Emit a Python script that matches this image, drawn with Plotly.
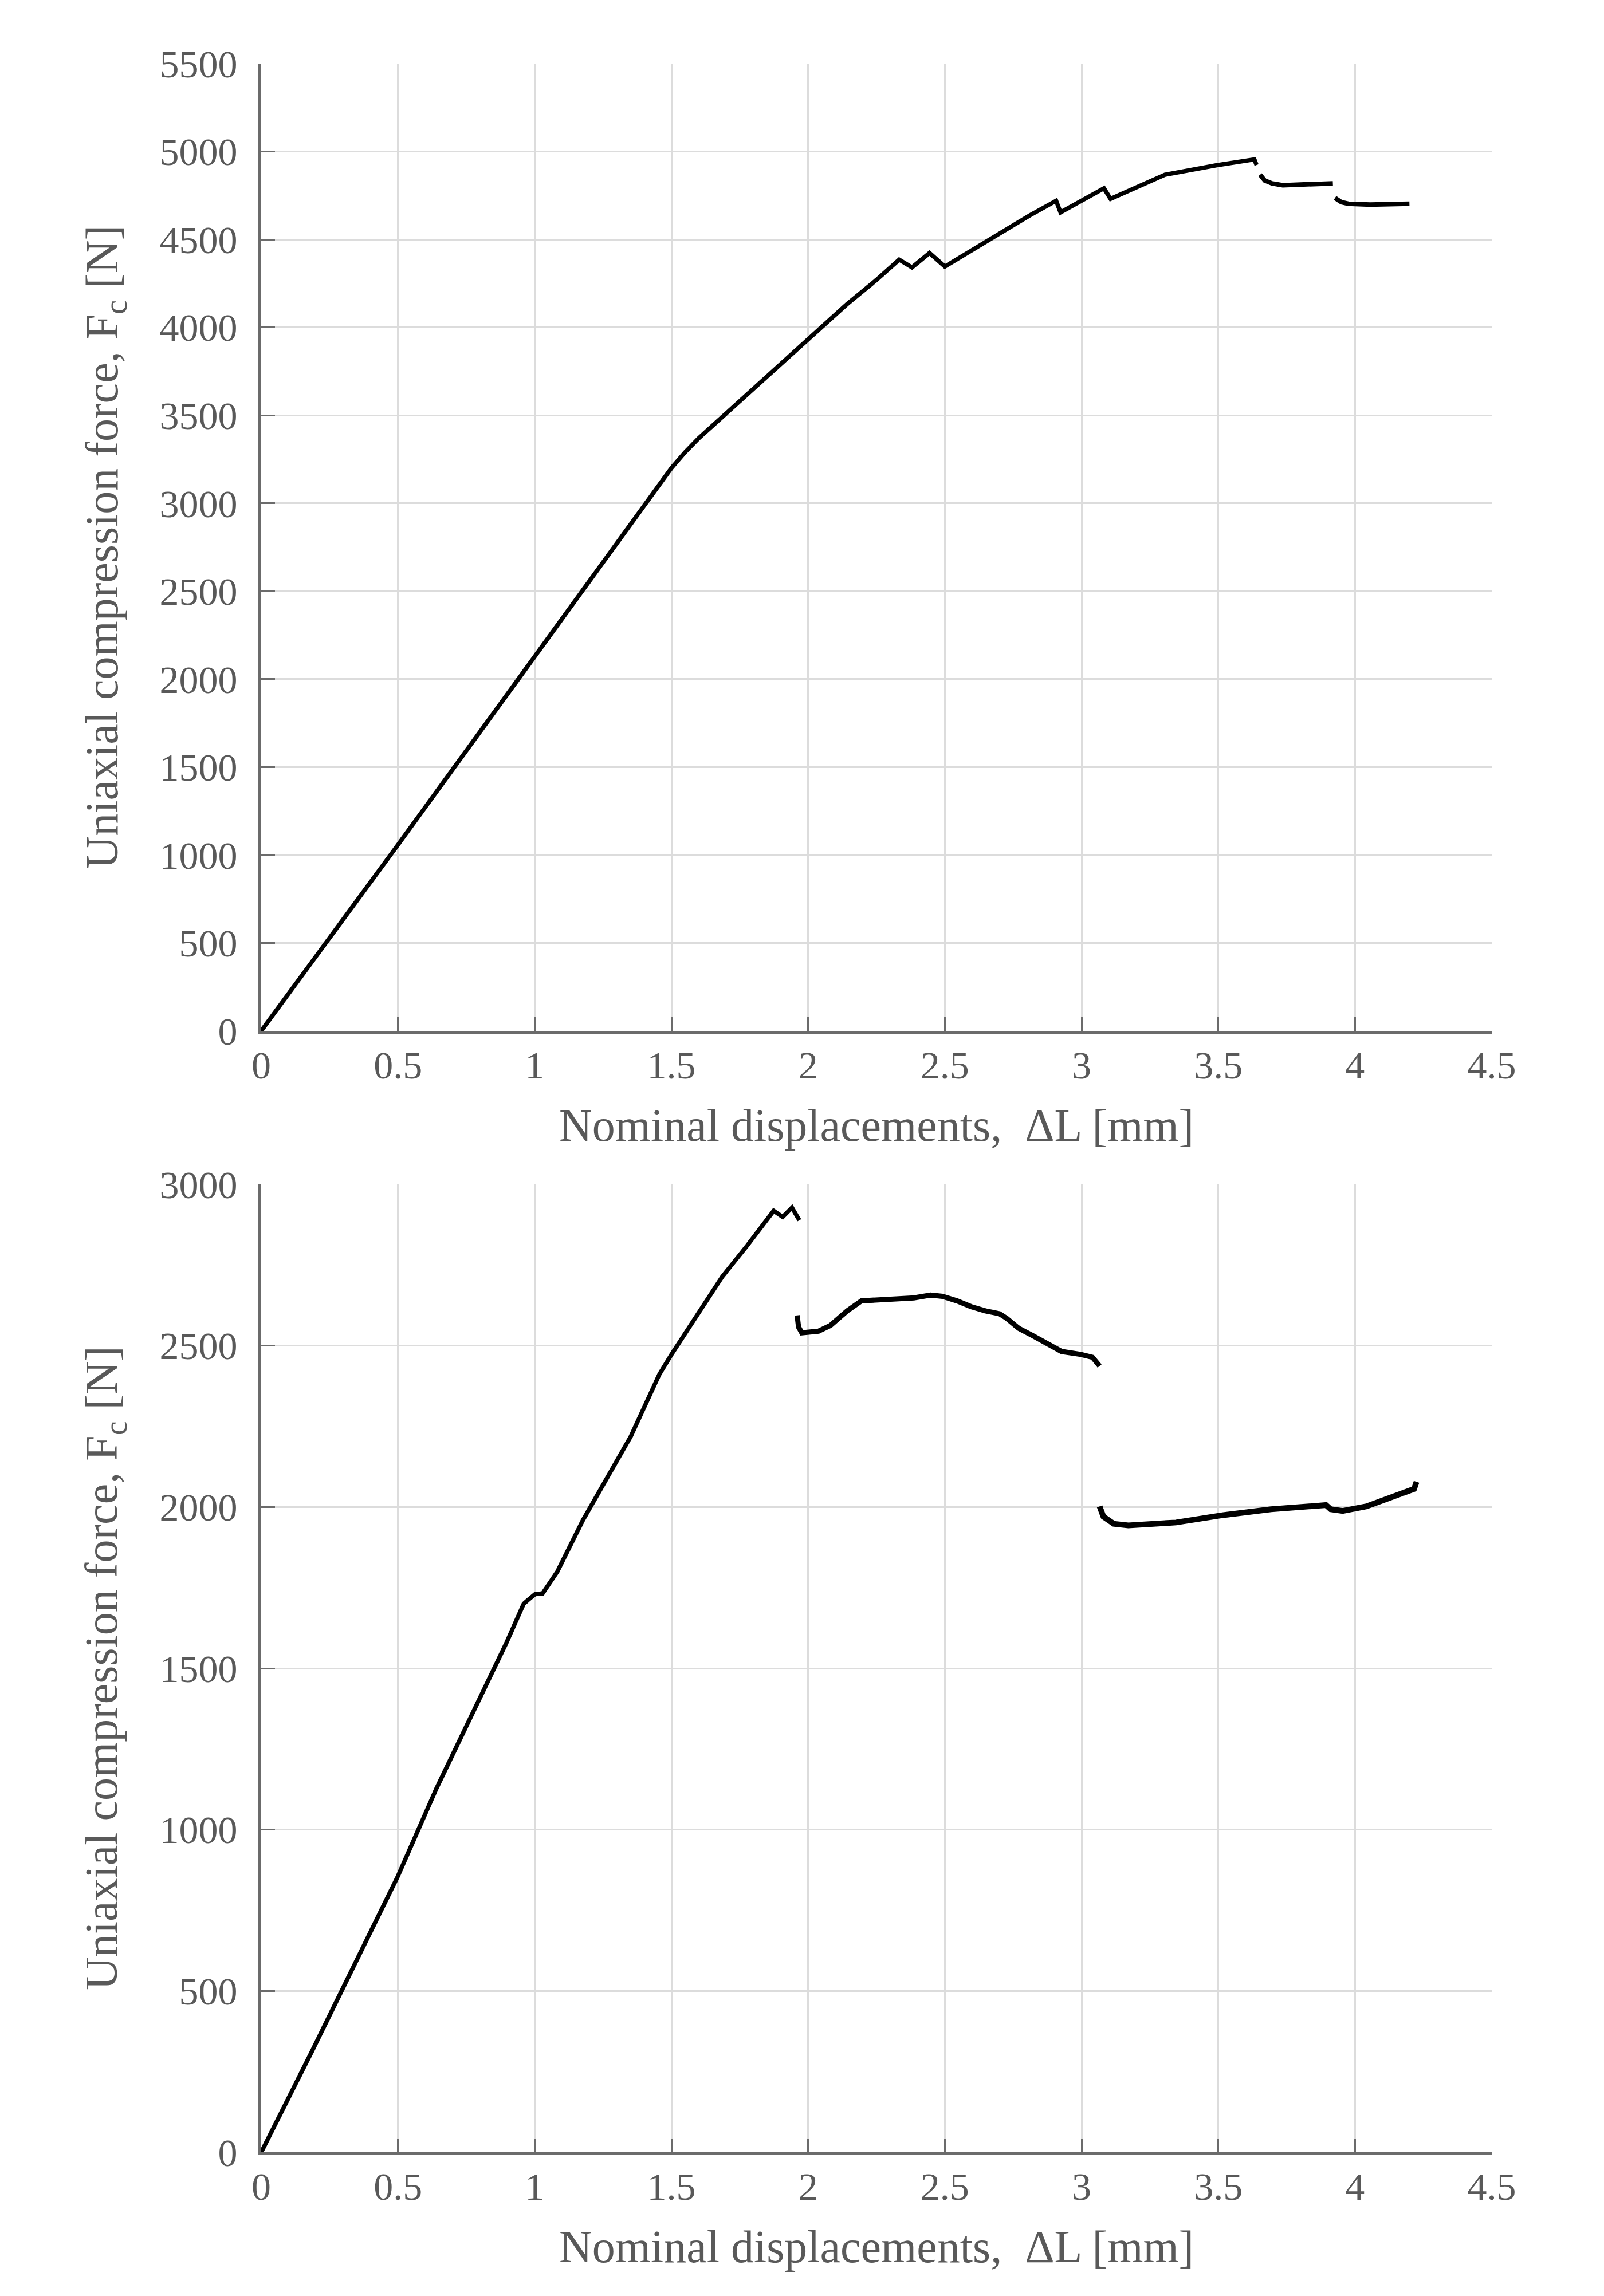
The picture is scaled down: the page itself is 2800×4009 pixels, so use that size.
import plotly.graph_objects as go

# ---------------- data ----------------
x_ticks = [0, 0.5, 1, 1.5, 2, 2.5, 3, 3.5, 4, 4.5]
top_y_ticks = [0, 500, 1000, 1500, 2000, 2500, 3000, 3500, 4000, 4500, 5000, 5500]
bot_y_ticks = [0, 500, 1000, 1500, 2000, 2500, 3000]

# top specimen: three recorded stretches
top_seg1_x = [0, 0.5, 1.0, 1.45, 1.5, 1.55, 1.6, 1.65, 1.7, 1.744, 1.85, 1.98, 2.141,
              2.25, 2.333, 2.38, 2.444, 2.5, 2.667, 2.811, 2.907, 2.923, 3.082, 3.106,
              3.305, 3.497, 3.632, 3.64]
top_seg1_f = [0, 1058, 2128, 3100, 3200, 3290, 3370, 3440, 3510, 3570, 3720, 3900, 4130,
              4270, 4385, 4341, 4423, 4346, 4505, 4637, 4720, 4654, 4791, 4731,
              4868, 4923, 4955, 4923]
top_seg2_x = [3.653, 3.67, 3.696, 3.736, 3.8, 3.919]
top_seg2_f = [4868, 4835, 4819, 4808, 4812, 4819]
top_seg3_x = [3.927, 3.95, 3.975, 4.055, 4.199]
top_seg3_f = [4736, 4712, 4703, 4698, 4703]

# bottom specimen: three recorded stretches
bot_seg1_x = [0, 0.185, 0.5, 0.641, 0.895, 0.96, 0.976, 1.002, 1.029, 1.083, 1.177,
              1.351, 1.456, 1.499, 1.686, 1.777, 1.874, 1.907, 1.941, 1.968]
bot_seg1_f = [0, 312, 856, 1128, 1576, 1700, 1712, 1730, 1732, 1800, 1960,
              2218, 2411, 2471, 2714, 2810, 2918, 2899, 2928, 2889]
bot_seg2_x = [1.960, 1.965, 1.977, 2.038, 2.082, 2.143, 2.195, 2.300, 2.387, 2.448,
              2.491, 2.544, 2.596, 2.648, 2.700, 2.726, 2.770, 2.822, 2.892, 2.927,
              2.997, 3.040, 3.066]
bot_seg2_f = [2594, 2558, 2540, 2545, 2563, 2608, 2639, 2644, 2648, 2657,
              2653, 2639, 2621, 2608, 2599, 2585, 2554, 2531, 2500, 2482,
              2473, 2464, 2437]
bot_seg3_x = [3.066, 3.080, 3.118, 3.171, 3.345, 3.519, 3.693, 3.894, 3.911, 3.955,
              4.042, 4.129, 4.216, 4.225]
bot_seg3_f = [2002, 1970, 1948, 1943, 1952, 1975, 1993, 2006, 1993, 1988,
              2002, 2029, 2056, 2078]

x_title = "Nominal displacements,  ΔL [mm]"
y_title = "Uniaxial compression force, F<sub>c</sub> [N]"

# ---------------- figure ----------------
W, H = 2800, 4009
FONT = "Liberation Serif, Times New Roman, serif"
GREY = "#595959"
DX, DY = -5, -7   # compensate page offset

fig = go.Figure()

def add_seg(xs, fs, axis, width):
    fig.add_trace(go.Scatter(x=xs, y=fs, mode="lines",
                             line=dict(color="black", width=width),
                             xaxis="x" + axis, yaxis="y" + axis,
                             showlegend=False, hoverinfo="skip"))

add_seg(top_seg1_x, top_seg1_f, "", 7.5)
add_seg(top_seg2_x, top_seg2_f, "", 8)
add_seg(top_seg3_x, top_seg3_f, "", 8)
add_seg(bot_seg1_x, bot_seg1_f, "2", 7.5)
add_seg(bot_seg2_x, bot_seg2_f, "2", 9)
add_seg(bot_seg3_x, bot_seg3_f, "2", 10)

xd = [(453 + DX) / W, (2601 + DX) / W]
top_dom = [1 - (1799 + DY) / H, 1 - (110 + DY) / H]
bot_dom = [1 - (3757 + DY) / H, 1 - (2067 + DY) / H]

common_axis = dict(
    showgrid=True, gridcolor="#dcdcdc", gridwidth=3,
    showline=True, linecolor="#6b6b6b", linewidth=5,
    ticks="inside", ticklen=24, tickwidth=3, tickcolor="#6b6b6b",
    tickfont=dict(family=FONT, size=68, color=GREY),
    zeroline=False, automargin=False,
)

fig.update_layout(
    width=W, height=H,
    margin=dict(l=0, r=0, t=0, b=0, autoexpand=False),
    paper_bgcolor="white", plot_bgcolor="white",
    xaxis=dict(domain=xd, anchor="y", range=[0, 4.5], tickvals=x_ticks,
               ticklabelstandoff=-4, **common_axis),
    yaxis=dict(domain=top_dom, anchor="x", range=[0, 5500], tickvals=top_y_ticks,
               ticklabelstandoff=23, **common_axis),
    xaxis2=dict(domain=xd, anchor="y2", range=[0, 4.5], tickvals=x_ticks,
                ticklabelstandoff=-4, **common_axis),
    yaxis2=dict(domain=bot_dom, anchor="x2", range=[0, 3000], tickvals=bot_y_ticks,
                ticklabelstandoff=23, **common_axis),
)

title_font = dict(family=FONT, size=80, color=GREY)
xc = (xd[0] + xd[1]) / 2
for (ydom, ybase) in [(top_dom, 1799 + DY), (bot_dom, 3757 + DY)]:
    fig.add_annotation(text=x_title, xref="paper", yref="paper",
                       x=xc, y=1 - (ybase + 165) / H,
                       xanchor="center", yanchor="middle", showarrow=False,
                       font=title_font)
    fig.add_annotation(text=y_title, xref="paper", yref="paper",
                       x=(180 + DX) / W, y=(ydom[0] + ydom[1]) / 2,
                       xanchor="center", yanchor="middle", showarrow=False,
                       textangle=-90, font=title_font)

fig.write_html("out.html")
